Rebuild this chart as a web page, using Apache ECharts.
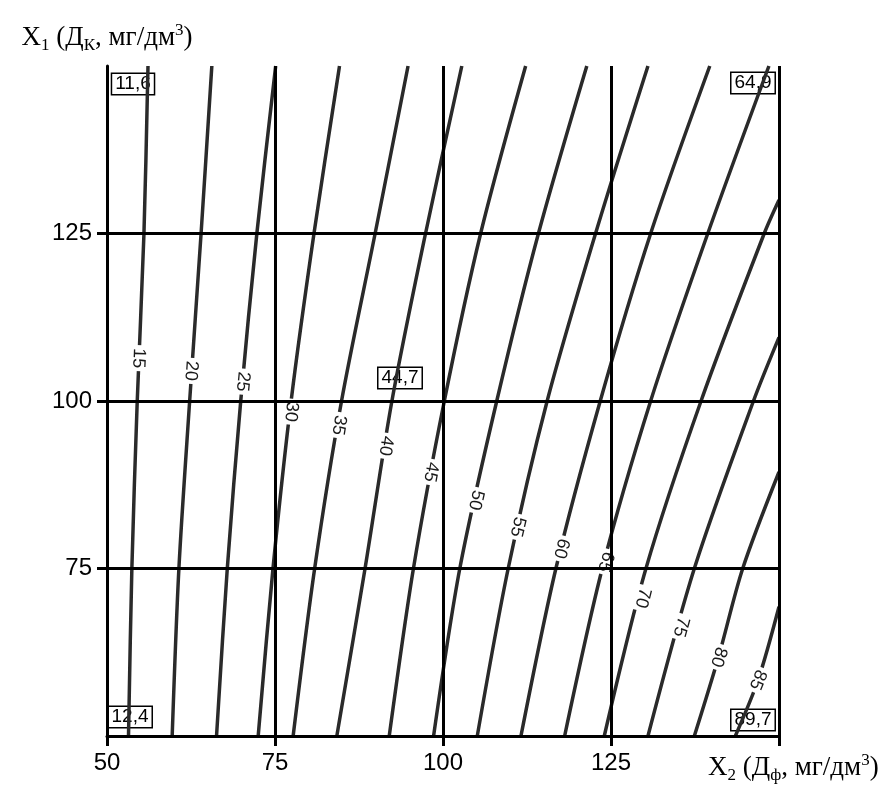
<!DOCTYPE html>
<html><head><meta charset="utf-8">
<script src="https://cdn.jsdelivr.net/npm/echarts@6/dist/echarts.min.js"></script>
<style>html,body{margin:0;padding:0;background:#fff}#c{width:890px;height:806px}</style>
</head><body><div id="c"></div>
<script>
// ---- data: contour levels and points [X2, X1] ----
const levels = [15, 20, 25, 30, 35, 40, 45, 50, 55, 60, 65, 70, 75, 80, 85];
const c15 = [[53.2,50],[53.7,75],[54.5,100],[55.5,125],[56.1,150]];
const c20 = [[59.7,50],[60.7,75],[62.3,100],[64.0,125],[65.6,150]];
const c25 = [[66.3,50],[67.9,75],[69.9,100],[72.3,125],[75.1,150]];
const c30 = [[72.5,50],[74.7,75],[77.4,100],[80.8,125],[84.6,150]];
const c35 = [[77.7,50],[80.9,75],[84.9,100],[89.9,125],[94.8,150]];
const c40 = [[84.2,50],[88.4,75],[92.4,100],[97.4,125],[102.8,150]];
const c45 = [[92.0,50],[95.6,75],[100.2,100],[105.6,125],[112.3,150]];
const c50 = [[98.6,50],[102.5,75],[108.0,100],[114.2,125],[121.4,150]];
const c55 = [[105.1,50],[109.7,75],[115.5,100],[122.7,125],[130.5,150]];
const c60 = [[111.6,50],[116.8,75],[123.4,100],[130.9,125],[139.7,150]];
const c65 = [[118.1,50],[123.7,75],[130.9,100],[139.4,125],[148.5,150]];
const c70 = [[124.0,50],[130.2,75],[138.4,100],[147.8,125],[150,130.0]];
const c75 = [[130.5,50],[137.4,75],[146.2,100],[150,109.5]];
const c80 = [[137.4,50],[141.0,61.8],[144.6,75],[150,89.4]];
const c85 = [[143.5,50],[146.9,58.4],[150,69.3]];
const contours = [c15, c20, c25, c30, c35, c40, c45, c50, c55, c60, c65, c70, c75, c80, c85];
// where each level's label sits on its line
const labelAt = [[54.7,106.4],[62.5,104.5],[70.2,102.9],[77.4,98.4],[84.5,96.4],[91.5,93.3],[98.2,89.4],
                 [104.9,85.2],[111.1,81.2],[117.6,78.0],[124.2,76.0],[129.7,70.6],[135.4,66.3],[141.0,61.8],[146.8,58.4]];
// boxed values
const boxPoints = [[50,150],[150,150],[50,50],[150,50],[100,100]];
const boxValues = [11.6, 64.9, 12.4, 89.7, 44.7];
// ticks
const xTickLabels = [50, 75, 100, 125];
const yTickLabels = [75, 100, 125];
const xName = '{a|X}{s|2}{a| (Д}{s|ф}{a|, мг/дм}{p|3}{a|)}';
const yName = '{a|X}{s|1}{a| (Д}{s|К}{a|, мг/дм}{p|3}{a|)}';

// ---- chart ----
const chart = echarts.init(document.getElementById('c'));
const sans = "'Liberation Sans', Arial, sans-serif";
const serif = "'Liberation Serif', 'Times New Roman', serif";
const rich = {
  a: {fontFamily: serif, fontSize: 27, color: '#000', lineHeight: 32},
  s: {fontFamily: serif, fontSize: 17, color: '#000', verticalAlign: 'bottom'},
  p: {fontFamily: serif, fontSize: 17, color: '#000', verticalAlign: 'top'}
};
const boxOffsets = [[26,18],[-26,17],[23,-19],[-26,-16],[-43,-23]];

function axisCommon() {
  return {
    type: 'value', min: 50, max: 150, interval: 25, z: 10,
    axisLine: {show: true, lineStyle: {color: '#000', width: 3}},
    splitLine: {show: true, lineStyle: {color: '#000', width: 3}}
  };
}
const xAxis = Object.assign(axisCommon(), {
  axisTick: {show: true, length: 10, lineStyle: {color: '#000', width: 3}},
  axisLabel: {customValues: xTickLabels, fontSize: 24, color: '#000', fontFamily: sans, margin: 15},
  name: xName, nameLocation: 'end', nameGap: -71,
  nameTextStyle: {rich: rich, align: 'left', verticalAlign: 'middle', padding: [64, 0, 0, 0]}
});
const yAxis = Object.assign(axisCommon(), {
  axisTick: {show: true, length: 10, customValues: yTickLabels, lineStyle: {color: '#000', width: 3}},
  axisLabel: {customValues: yTickLabels, fontSize: 24, color: '#000', fontFamily: sans, margin: 15},
  name: yName, nameLocation: 'end', nameGap: 28,
  nameTextStyle: {rich: rich, align: 'center', verticalAlign: 'middle'}
});

const series = [];
series.push({
  type: 'scatter', z: 1, symbolSize: 1, itemStyle: {color: 'rgba(0,0,0,0)', opacity: 1}, silent: true,
  data: boxPoints.map((p, i) => ({value: p, label: {offset: boxOffsets[i]}})),
  label: {show: true, position: 'inside', color: '#000', fontSize: 19, fontFamily: sans, lineHeight: 20,
    formatter: p => boxValues[p.dataIndex].toFixed(1).replace('.', ','),
    backgroundColor: '#fff', borderColor: '#000', borderWidth: 1.5, padding: [0, 3]}
});
contours.forEach((c, i) => {
  series.push({
    type: 'line', z: 2, data: c, showSymbol: false, smooth: 0.3, silent: true,
    lineStyle: {color: '#2a2a2a', width: 3.5}
  });
});
const labelSeriesIndex = series.length;
series.push({
  type: 'scatter', z: 3, symbolSize: 1, itemStyle: {color: 'rgba(0,0,0,0)', opacity: 1}, silent: true,
  data: labelAt.map(p => ({value: p})),
  label: {show: true, position: 'inside', color: '#1a1a1a', fontSize: 18, fontFamily: sans,
    formatter: p => String(levels[p.dataIndex]), backgroundColor: '#fff', padding: [0, 3]}
});

chart.setOption({
  animation: false,
  grid: {left: 107, top: 66, right: 111, bottom: 70, containLabel: false},
  xAxis: xAxis, yAxis: yAxis, series: series
});

// rotate each label along its own line (screen-space direction of the line)
const rotated = labelAt.map((lp, i) => {
  const c = contours[i];
  let k = 0;
  while (k < c.length - 2 && c[k + 1][1] < lp[1]) k++;
  const A = chart.convertToPixel({gridIndex: 0}, c[k + 1]);
  const B = chart.convertToPixel({gridIndex: 0}, c[k]);
  const ang = Math.atan2(B[1] - A[1], B[0] - A[0]) * 180 / Math.PI;
  return {value: lp, label: {rotate: -ang}};
});
const upd = series.map(() => ({}));
upd[labelSeriesIndex] = {data: rotated};
chart.setOption({series: upd});
</script></body></html>
